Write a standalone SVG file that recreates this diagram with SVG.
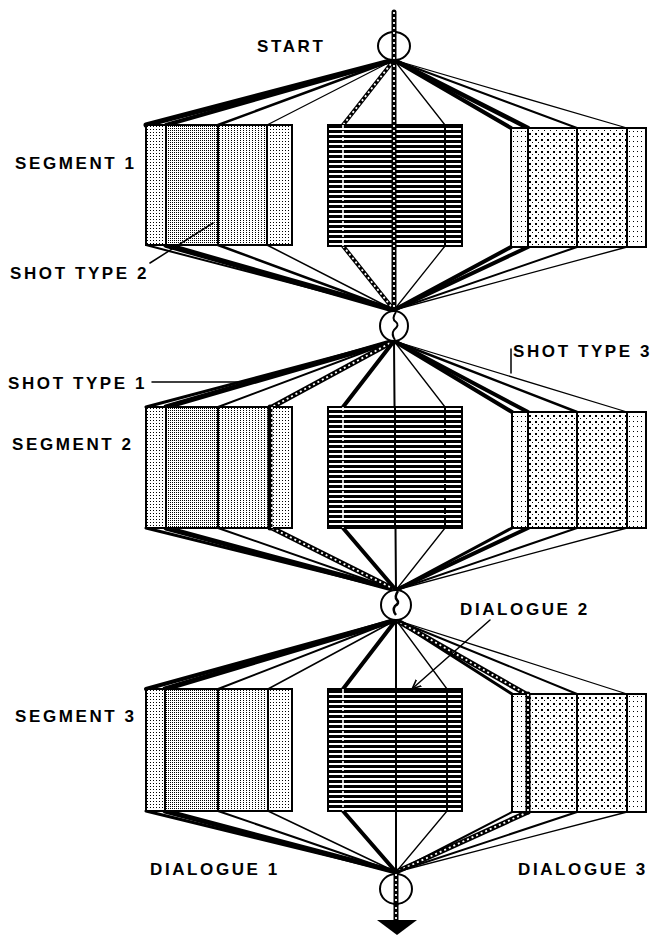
<svg xmlns="http://www.w3.org/2000/svg" width="656" height="937" viewBox="0 0 656 937">
<style>
.lbl{font-family:"Liberation Sans","DejaVu Sans",Arial,sans-serif;font-weight:bold;font-size:17px;letter-spacing:2.6px;fill:#000}
.ln{stroke:#000;fill:none;stroke-linecap:round}
.ol{fill:none;stroke:#000;stroke-width:2}
.dv{stroke:#000;stroke-width:2}
.chainB{stroke:#000;stroke-width:5;fill:none;stroke-linecap:round}
.chainW{stroke:#fff;stroke-width:1.8;fill:none;stroke-dasharray:2 3}
.wd{stroke:#fff;stroke-width:1.6;stroke-dasharray:4 2}
.hub{fill:#fff;stroke:#000;stroke-width:2}
</style>
<defs>
<pattern id="pDense" width="2" height="2" patternUnits="userSpaceOnUse"><rect width="2" height="2" fill="#fff"/><rect width="1" height="1" fill="#000"/></pattern>
<pattern id="pMed" width="3" height="2" patternUnits="userSpaceOnUse"><rect width="3" height="2" fill="#fff"/><rect width="1" height="1" fill="#000"/></pattern>
<pattern id="pLight" width="3" height="3" patternUnits="userSpaceOnUse"><rect width="3" height="3" fill="#fff"/><rect width="1" height="1" fill="#000"/></pattern>
<pattern id="pSparse" width="6" height="6" patternUnits="userSpaceOnUse"><rect width="6" height="6" fill="#fff"/><rect x="1" y="1" width="2" height="2" fill="#000"/><rect x="4" y="4" width="1" height="1" fill="#000"/></pattern>
<pattern id="pSmall" width="4" height="5" patternUnits="userSpaceOnUse"><rect width="4" height="5" fill="#fff"/><rect x="1" y="1" width="1" height="1" fill="#000"/></pattern>
<pattern id="pHatch" width="10" height="5" patternUnits="userSpaceOnUse"><rect width="10" height="5" fill="#fff"/><rect width="10" height="3" fill="#000"/></pattern>
<marker id="arr" markerWidth="10" markerHeight="10" refX="8" refY="5" orient="auto" markerUnits="userSpaceOnUse"><path d="M0,1 L9,5 L0,9" fill="none" stroke="#000" stroke-width="1.6"/></marker>
</defs>
<rect width="656" height="937" fill="#fff"/>

<g id="connectors">
  <!-- top entry chain -->
  <line class="chainB" x1="394" y1="12" x2="394" y2="60"/>
  <line class="chainW" x1="394" y1="12" x2="394" y2="60"/>
  <!-- Segment 1 top fan -->
  <line class="ln" stroke-width="5" x1="394" y1="60" x2="146" y2="125"/>
  <line class="ln" stroke-width="4" x1="394" y1="60" x2="166" y2="125"/>
  <line class="ln" stroke-width="2.5" x1="394" y1="60" x2="218" y2="125"/>
  <line class="ln" stroke-width="1.3" x1="394" y1="60" x2="267" y2="125"/>
  <line class="ln" stroke-width="4" x1="394" y1="60" x2="343" y2="125"/>
  <line class="chainW" x1="394" y1="60" x2="343" y2="125"/>
  <line class="ln" stroke-width="1.3" x1="394" y1="60" x2="445" y2="125"/>
  <line class="ln" stroke-width="4" x1="394" y1="60" x2="511" y2="128"/>
  <line class="ln" stroke-width="4.5" x1="394" y1="60" x2="528" y2="128"/>
  <line class="ln" stroke-width="2" x1="394" y1="60" x2="577" y2="128"/>
  <line class="ln" stroke-width="1.3" x1="394" y1="60" x2="627" y2="128"/>
  <!-- Segment 1 bottom fan -->
  <line class="ln" stroke-width="2" x1="146" y1="245" x2="394" y2="310"/>
  <line class="ln" stroke-width="5.5" x1="166" y1="245" x2="394" y2="310"/>
  <line class="ln" stroke-width="2.5" x1="218" y1="245" x2="394" y2="310"/>
  <line class="ln" stroke-width="1.5" x1="267" y1="245" x2="394" y2="310"/>
  <line class="ln" stroke-width="4" x1="343" y1="246" x2="394" y2="310"/>
  <line class="chainW" x1="343" y1="246" x2="394" y2="310"/>
  <line class="ln" stroke-width="1.3" x1="445" y1="246" x2="394" y2="310"/>
  <line class="ln" stroke-width="4" x1="511" y1="247" x2="394" y2="310"/>
  <line class="ln" stroke-width="4" x1="528" y1="247" x2="394" y2="310"/>
  <line class="ln" stroke-width="2" x1="577" y1="247" x2="394" y2="310"/>
  <line class="ln" stroke-width="1.3" x1="627" y1="247" x2="394" y2="310"/>
  <!-- Segment 1 vertical chain -->
  <line class="chainB" x1="394" y1="60" x2="394" y2="310"/>

  <!-- Segment 2 top fan -->
  <line class="ln" stroke-width="3" x1="394" y1="341" x2="146" y2="407"/>
  <line class="ln" stroke-width="5" x1="394" y1="341" x2="166" y2="407"/>
  <line class="ln" stroke-width="2" x1="394" y1="341" x2="218" y2="407"/>
  <line class="chainB" x1="394" y1="341" x2="272" y2="407"/>
  <line class="chainW" x1="394" y1="341" x2="272" y2="407"/>
  <line class="ln" stroke-width="4" x1="394" y1="341" x2="343" y2="407"/>
  <line class="ln" stroke-width="1.3" x1="394" y1="341" x2="445" y2="407"/>
  <line class="ln" stroke-width="4" x1="394" y1="341" x2="512" y2="412"/>
  <line class="ln" stroke-width="4" x1="394" y1="341" x2="528" y2="412"/>
  <line class="ln" stroke-width="2.5" x1="394" y1="341" x2="577" y2="412"/>
  <line class="ln" stroke-width="1.3" x1="394" y1="341" x2="627" y2="412"/>
  <!-- Segment 2 bottom fan -->
  <line class="ln" stroke-width="3" x1="146" y1="528" x2="396" y2="590"/>
  <line class="ln" stroke-width="5" x1="166" y1="528" x2="396" y2="590"/>
  <line class="ln" stroke-width="2" x1="218" y1="528" x2="396" y2="590"/>
  <line class="chainB" x1="272" y1="528" x2="396" y2="590"/>
  <line class="chainW" x1="272" y1="528" x2="396" y2="590"/>
  <line class="ln" stroke-width="4" x1="343" y1="528" x2="396" y2="590"/>
  <line class="ln" stroke-width="1.3" x1="445" y1="528" x2="396" y2="590"/>
  <line class="ln" stroke-width="3" x1="512" y1="528" x2="396" y2="590"/>
  <line class="ln" stroke-width="4" x1="528" y1="528" x2="396" y2="590"/>
  <line class="ln" stroke-width="2" x1="577" y1="528" x2="396" y2="590"/>
  <line class="ln" stroke-width="1.3" x1="627" y1="528" x2="396" y2="590"/>
  <line class="ln" stroke-width="2" x1="394" y1="341" x2="396" y2="590"/>

  <!-- Segment 3 top fan -->
  <line class="ln" stroke-width="4" x1="396" y1="620" x2="146" y2="689"/>
  <line class="ln" stroke-width="5" x1="396" y1="620" x2="165" y2="689"/>
  <line class="ln" stroke-width="2" x1="396" y1="620" x2="218" y2="689"/>
  <line class="ln" stroke-width="1.5" x1="396" y1="620" x2="268" y2="689"/>
  <line class="ln" stroke-width="4" x1="396" y1="620" x2="343" y2="689"/>
  <line class="ln" stroke-width="1.3" x1="396" y1="620" x2="447" y2="689"/>
  <line class="ln" stroke-width="3" x1="396" y1="620" x2="512" y2="694"/>
  <line class="chainB" x1="396" y1="620" x2="526" y2="694"/>
  <line class="chainW" x1="396" y1="620" x2="526" y2="694"/>
  <line class="ln" stroke-width="2" x1="396" y1="620" x2="577" y2="694"/>
  <line class="ln" stroke-width="1.3" x1="396" y1="620" x2="627" y2="694"/>
  <!-- Segment 3 bottom fan -->
  <line class="ln" stroke-width="3" x1="146" y1="811" x2="396" y2="872"/>
  <line class="ln" stroke-width="5" x1="165" y1="811" x2="396" y2="872"/>
  <line class="ln" stroke-width="2" x1="218" y1="811" x2="396" y2="872"/>
  <line class="ln" stroke-width="1.5" x1="268" y1="811" x2="396" y2="872"/>
  <line class="ln" stroke-width="4" x1="343" y1="811" x2="396" y2="872"/>
  <line class="ln" stroke-width="1.3" x1="447" y1="811" x2="396" y2="872"/>
  <line class="ln" stroke-width="2" x1="512" y1="812" x2="396" y2="872"/>
  <line class="chainB" x1="528" y1="812" x2="396" y2="872"/>
  <line class="chainW" x1="528" y1="812" x2="396" y2="872"/>
  <line class="ln" stroke-width="2" x1="577" y1="812" x2="396" y2="872"/>
  <line class="ln" stroke-width="1.3" x1="627" y1="812" x2="396" y2="872"/>
  <line class="ln" stroke-width="2" x1="396" y1="620" x2="396" y2="872"/>

  <!-- exit chain -->
  <line class="chainB" x1="396" y1="872" x2="396" y2="922"/>
  <line class="chainW" x1="396" y1="872" x2="396" y2="922"/>
  <polygon points="377,920 417,920 397,935" fill="#000"/>
</g>

<!-- Segment 1 blocks -->
<g id="seg1-shots-left">
  <rect x="146" y="125" width="19" height="120" fill="url(#pLight)"/>
  <rect x="165" y="125" width="53" height="120" fill="url(#pDense)"/>
  <rect x="218" y="125" width="49" height="120" fill="url(#pMed)"/>
  <rect x="267" y="125" width="25" height="120" fill="url(#pLight)"/>
  <rect class="ol" x="146" y="125" width="146" height="120"/>
  <line class="dv" stroke-width="5" x1="166" y1="125" x2="166" y2="245"/>
  <line class="dv" x1="218" y1="125" x2="218" y2="245"/>
  <line class="dv" x1="267" y1="125" x2="267" y2="245"/>
</g>
<g id="seg1-dialogue">
  <rect x="328" y="125" width="134" height="121" fill="url(#pHatch)"/>
  <rect class="ol" x="328" y="125" width="134" height="121"/>
  <line class="wd" x1="343" y1="125" x2="343" y2="246"/>
  <line class="dv" stroke-width="1.5" x1="445" y1="125" x2="445" y2="246"/>
  <line class="chainB" x1="394" y1="125" x2="394" y2="246"/>
  <line class="chainW" x1="394" y1="60" x2="394" y2="310"/>
</g>
<g id="seg1-shots-right">
  <rect x="511" y="128" width="17" height="119" fill="url(#pSmall)"/>
  <rect x="528" y="128" width="49" height="119" fill="url(#pSparse)"/>
  <rect x="577" y="128" width="50" height="119" fill="url(#pSparse)"/>
  <rect x="627" y="128" width="19" height="119" fill="url(#pSmall)"/>
  <rect class="ol" x="511" y="128" width="135" height="119"/>
  <line class="dv" stroke-width="4" x1="528" y1="128" x2="528" y2="247"/>
  <line class="dv" x1="577" y1="128" x2="577" y2="247"/>
  <line class="dv" x1="627" y1="128" x2="627" y2="247"/>
</g>

<!-- Segment 2 blocks -->
<g id="seg2-shots-left">
  <rect x="146" y="407" width="19" height="121" fill="url(#pLight)"/>
  <rect x="165" y="407" width="53" height="121" fill="url(#pDense)"/>
  <rect x="218" y="407" width="50" height="121" fill="url(#pMed)"/>
  <rect x="268" y="407" width="24" height="121" fill="url(#pLight)"/>
  <rect class="ol" x="146" y="407" width="146" height="121"/>
  <line class="dv" stroke-width="5" x1="166" y1="407" x2="166" y2="528"/>
  <line class="dv" x1="218" y1="407" x2="218" y2="528"/>
  <line class="chainB" x1="270" y1="407" x2="270" y2="528"/>
  <line class="chainW" x1="272" y1="407" x2="272" y2="528"/>
</g>
<g id="seg2-dialogue">
  <rect x="328" y="407" width="134" height="121" fill="url(#pHatch)"/>
  <rect class="ol" x="328" y="407" width="134" height="121"/>
  <line class="wd" x1="343" y1="407" x2="343" y2="528"/>
  <line class="dv" stroke-width="2" stroke-dasharray="8 3" x1="445" y1="407" x2="445" y2="528"/>
  <line class="dv" stroke-width="2" x1="395" y1="407" x2="395" y2="528"/>
</g>
<g id="seg2-shots-right">
  <rect x="512" y="412" width="16" height="116" fill="url(#pSmall)"/>
  <rect x="528" y="412" width="49" height="116" fill="url(#pSparse)"/>
  <rect x="577" y="412" width="50" height="116" fill="url(#pSparse)"/>
  <rect x="627" y="412" width="19" height="116" fill="url(#pSmall)"/>
  <rect class="ol" x="512" y="412" width="134" height="116"/>
  <line class="dv" stroke-width="4" x1="528" y1="412" x2="528" y2="528"/>
  <line class="dv" x1="577" y1="412" x2="577" y2="528"/>
  <line class="dv" x1="627" y1="412" x2="627" y2="528"/>
</g>

<!-- Segment 3 blocks -->
<g id="seg3-shots-left">
  <rect x="146" y="689" width="19" height="122" fill="url(#pLight)"/>
  <rect x="165" y="689" width="53" height="122" fill="url(#pDense)"/>
  <rect x="218" y="689" width="50" height="122" fill="url(#pMed)"/>
  <rect x="268" y="689" width="24" height="122" fill="url(#pLight)"/>
  <rect class="ol" x="146" y="689" width="146" height="122"/>
  <line class="dv" stroke-width="5" x1="165" y1="689" x2="165" y2="811"/>
  <line class="dv" x1="218" y1="689" x2="218" y2="811"/>
  <line class="dv" x1="268" y1="689" x2="268" y2="811"/>
</g>
<g id="seg3-dialogue">
  <rect x="328" y="689" width="134" height="122" fill="url(#pHatch)"/>
  <rect class="ol" x="328" y="689" width="134" height="122"/>
  <line class="wd" x1="343" y1="689" x2="343" y2="811"/>
  <line class="dv" stroke-width="1.5" x1="447" y1="689" x2="447" y2="811"/>
  <line class="dv" stroke-width="2" x1="396" y1="689" x2="396" y2="811"/>
</g>
<g id="seg3-shots-right">
  <rect x="512" y="694" width="16" height="118" fill="url(#pSmall)"/>
  <rect x="528" y="694" width="49" height="118" fill="url(#pSparse)"/>
  <rect x="577" y="694" width="50" height="118" fill="url(#pSparse)"/>
  <rect x="627" y="694" width="19" height="118" fill="url(#pSmall)"/>
  <rect class="ol" x="512" y="694" width="134" height="118"/>
  <line class="chainB" x1="528" y1="694" x2="528" y2="812"/>
  <line class="chainW" x1="528" y1="694" x2="528" y2="812"/>
  <line class="dv" x1="577" y1="694" x2="577" y2="812"/>
  <line class="dv" x1="627" y1="694" x2="627" y2="812"/>
</g>

<!-- Hubs -->
<g id="start">
  <ellipse class="hub" cx="394" cy="46" rx="16" ry="14"/>
  <line class="chainB" x1="394" y1="32" x2="394" y2="60"/>
  <line class="chainW" x1="394" y1="32" x2="394" y2="60"/>
  <text class="lbl" x="257" y="52">START</text>
</g>
<g id="hub2">
  <ellipse class="hub" cx="394" cy="326" rx="14" ry="15"/>
  <path d="M396,312 q-5,7 0,10 q4,3 -2,8 q-3,4 1,10" fill="none" stroke="#000" stroke-width="2"/>
</g>
<g id="hub3">
  <ellipse class="hub" cx="396" cy="605" rx="15" ry="15"/>
  <path d="M398,591 q-4,6 -1,9 q3,3 -2,6 q-3,4 1,9" fill="none" stroke="#000" stroke-width="2.5"/>
</g>
<g id="end">
  <ellipse class="hub" cx="396" cy="889" rx="16" ry="15"/>
  <line class="chainB" x1="396" y1="874" x2="396" y2="904"/>
  <line class="chainW" x1="396" y1="874" x2="396" y2="904"/>
</g>

<!-- Labels -->
<g id="labels">
  <text class="lbl" x="15" y="169">SEGMENT 1</text>
  <text class="lbl" x="10" y="279">SHOT TYPE 2</text>
  <line class="ln" stroke-width="1.5" x1="150" y1="263" x2="213" y2="223"/>
  <text class="lbl" x="8" y="389">SHOT TYPE 1</text>
  <line class="ln" stroke-width="1.5" x1="152" y1="382" x2="240" y2="382"/>
  <text class="lbl" x="513" y="357">SHOT TYPE 3</text>
  <line class="ln" stroke-width="1.5" x1="511" y1="349" x2="511" y2="373"/>
  <text class="lbl" x="12" y="450">SEGMENT 2</text>
  <text class="lbl" x="460" y="615">DIALOGUE 2</text>
  <line class="ln" stroke-width="1.5" x1="490" y1="620" x2="413" y2="688" marker-end="url(#arr)"/>
  <text class="lbl" x="15" y="722">SEGMENT 3</text>
  <text class="lbl" x="150" y="875">DIALOGUE 1</text>
  <text class="lbl" x="518" y="875">DIALOGUE 3</text>
</g>
</svg>
